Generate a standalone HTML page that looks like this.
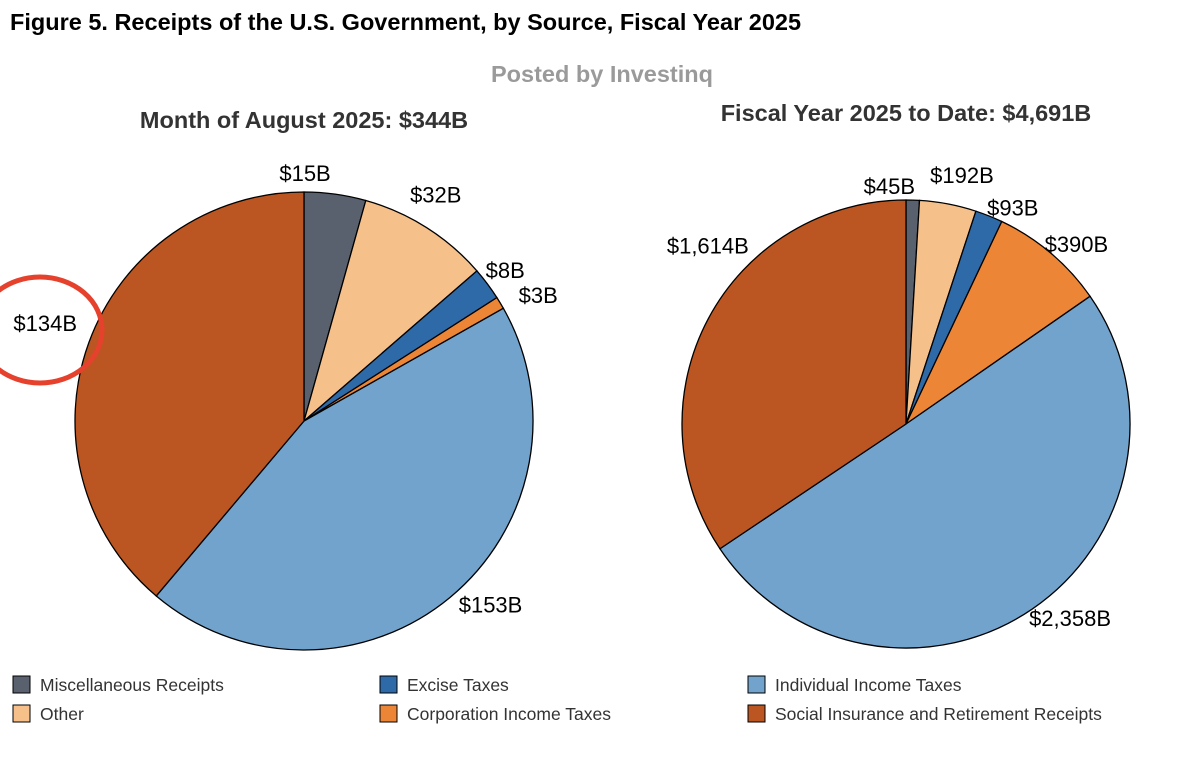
<!DOCTYPE html>
<html><head><meta charset="utf-8">
<style>
body{margin:0;background:#fff;width:1200px;height:764px;overflow:hidden;font-family:"Liberation Sans",Arial,sans-serif;}
</style></head>
<body>
<svg id="chart" width="1200" height="764" viewBox="0 0 1200 764" xmlns="http://www.w3.org/2000/svg">
<text x="10" y="30" font-size="23.5" font-weight="bold" fill="#000">Figure 5. Receipts of the U.S. Government, by Source, Fiscal Year 2025</text>
<text x="602" y="82" font-size="23.5" font-weight="bold" fill="#9a9a9a" text-anchor="middle">Posted by Investinq</text>
<text x="304" y="128" font-size="23.5" font-weight="bold" fill="#333" text-anchor="middle">Month of August 2025: $344B</text>
<text x="906" y="121" font-size="23.5" font-weight="bold" fill="#333" text-anchor="middle">Fiscal Year 2025 to Date: $4,691B</text>
<g id="pies"></g>
<ellipse cx="40" cy="330" rx="62" ry="53" fill="none" stroke="#e5412c" stroke-width="5"/>
<g id="legend"></g>
</svg>
<script>
const categories = ["Miscellaneous Receipts","Other","Excise Taxes","Corporation Income Taxes","Individual Income Taxes","Social Insurance and Retirement Receipts"];
const colors = ["#5a616e","#f5c08a","#2e6aa8","#ec8636","#72a3cc","#bb5622"];
const augustValues = [15,32,8,3,153,134];
const augustLabels = ["$15B","$32B","$8B","$3B","$153B","$134B"];
const fy2025Values = [45,192,93,390,2358,1614];
const fy2025Labels = ["$45B","$192B","$93B","$390B","$2,358B","$1,614B"];

const NS="http://www.w3.org/2000/svg";
const pies=document.getElementById('pies');
function drawPie(values,labels,cx,cy,r,offs,name){
  const total=values.reduce((a,b)=>a+b,0);
  let a0=0;
  values.forEach((v,i)=>{
    const a1=a0+v/total*2*Math.PI;
    const x0=cx+r*Math.sin(a0),y0=cy-r*Math.cos(a0);
    const x1=cx+r*Math.sin(a1),y1=cy-r*Math.cos(a1);
    const large=(a1-a0)>Math.PI?1:0;
    const p=document.createElementNS(NS,'path');
    p.setAttribute('d',`M${cx},${cy}L${x0},${y0}A${r},${r} 0 ${large} 1 ${x1},${y1}Z`);
    p.setAttribute('fill',colors[i]);p.setAttribute('stroke','#000');p.setAttribute('stroke-width','1.3');
    
    
    pies.appendChild(p);
    const am=(a0+a1)/2,R=r+21;
    const t=document.createElementNS(NS,'text');
    t.setAttribute('x',cx+R*Math.sin(am)+offs[i][0]);
    t.setAttribute('y',cy-R*Math.cos(am)+offs[i][1]);
    t.setAttribute('text-anchor','middle');t.setAttribute('dominant-baseline','middle');
    t.setAttribute('font-size','22');t.setAttribute('fill','#000');
    t.textContent=labels[i];
    
    
    pies.appendChild(t);
    a0=a1;
  });
}
drawPie(augustValues,augustLabels,304,421,229,[[-33,2],[-2,-13],[1,1],[20,5],[27,-7],[-24,-10]],'august');
drawPie(fy2025Values,fy2025Labels,906,424,224,[[-24,9],[10,-6],[16,13],[12,9],[26,-6],[18,-61]],'fy2025');

const lg=document.getElementById('legend');
const pos=[[13,676],[13,705],[380,676],[380,705],[748,676],[748,705]];
categories.forEach((c,i)=>{
  const g=document.createElementNS(NS,'g');
  
  
  const rc=document.createElementNS(NS,'rect');
  rc.setAttribute('x',pos[i][0]);rc.setAttribute('y',pos[i][1]);rc.setAttribute('width',17);rc.setAttribute('height',17);
  rc.setAttribute('fill',colors[i]);rc.setAttribute('stroke','#000');rc.setAttribute('stroke-width','1');
  const t=document.createElementNS(NS,'text');
  t.setAttribute('x',pos[i][0]+27);t.setAttribute('y',pos[i][1]+15);
  t.setAttribute('font-size','17.5');t.setAttribute('fill','#333');t.textContent=c;
  g.appendChild(rc);g.appendChild(t);lg.appendChild(g);
});
</script>
</body></html>
